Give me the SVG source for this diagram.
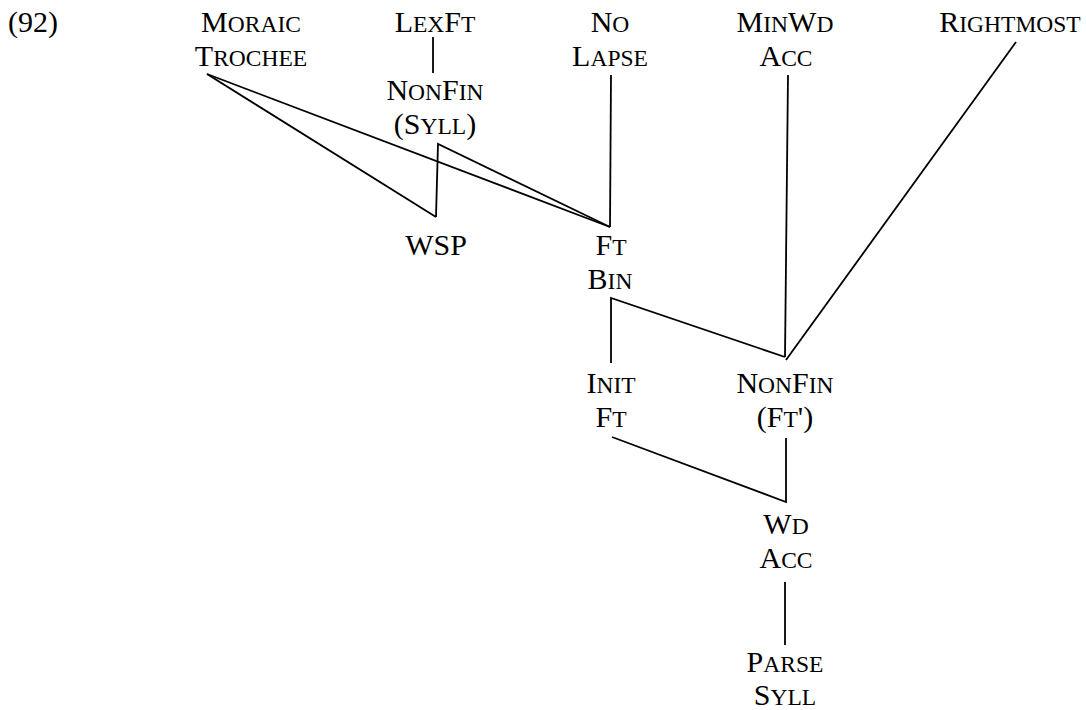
<svg xmlns="http://www.w3.org/2000/svg" width="1086" height="710" viewBox="0 0 1086 710">
  <style>
    .t { font-family: "Liberation Serif", "Times New Roman", serif; font-size: 30px; fill: #000; text-anchor: middle; }
    .s { font-size: 23.5px; }
    .edge { fill: none; stroke: #000; stroke-width: 1.8; stroke-linejoin: miter; stroke-linecap: butt; }
  </style>
  <rect width="1086" height="710" fill="#fff"/>

  <!-- example number -->
  <text class="t" x="8" y="32" style="text-anchor:start">(92)</text>

  <!-- constraint nodes -->
  <g id="moraic-trochee">
    <text class="t" x="251" y="32">M<tspan class="s">ORAIC</tspan></text>
    <text class="t" x="251" y="66">T<tspan class="s">ROCHEE</tspan></text>
  </g>
  <g id="lexft">
    <text class="t" x="435" y="32">L<tspan class="s">EX</tspan>F<tspan class="s">T</tspan></text>
  </g>
  <g id="nonfin-syll">
    <text class="t" x="435" y="100">N<tspan class="s">ON</tspan>F<tspan class="s">IN</tspan></text>
    <text class="t" x="435" y="134">(S<tspan class="s">YLL</tspan>)</text>
  </g>
  <g id="no-lapse">
    <text class="t" x="610" y="32">N<tspan class="s">O</tspan></text>
    <text class="t" x="610" y="66">L<tspan class="s">APSE</tspan></text>
  </g>
  <g id="minwd-acc">
    <text class="t" x="785" y="32">M<tspan class="s">IN</tspan>W<tspan class="s">D</tspan></text>
    <text class="t" x="786" y="66">A<tspan class="s">CC</tspan></text>
  </g>
  <g id="rightmost">
    <text class="t" x="1010" y="32">R<tspan class="s">IGHTMOST</tspan></text>
  </g>
  <g id="wsp">
    <text class="t" x="436" y="255">WSP</text>
  </g>
  <g id="ft-bin">
    <text class="t" x="611" y="255">F<tspan class="s">T</tspan></text>
    <text class="t" x="610" y="289">B<tspan class="s">IN</tspan></text>
  </g>
  <g id="init-ft">
    <text class="t" x="611" y="393">I<tspan class="s">NIT</tspan></text>
    <text class="t" x="611" y="427">F<tspan class="s">T</tspan></text>
  </g>
  <g id="nonfin-ft">
    <text class="t" x="785" y="393">N<tspan class="s">ON</tspan>F<tspan class="s">IN</tspan></text>
    <text class="t" x="785" y="427">(F<tspan class="s">T</tspan>')</text>
  </g>
  <g id="wd-acc">
    <text class="t" x="786" y="534">W<tspan class="s">D</tspan></text>
    <text class="t" x="786" y="568">A<tspan class="s">CC</tspan></text>
  </g>
  <g id="parse-syll">
    <text class="t" x="785" y="672">P<tspan class="s">ARSE</tspan></text>
    <text class="t" x="785" y="705">S<tspan class="s">YLL</tspan></text>
  </g>

  <!-- ranking lines -->
  <g id="connectors">
    <line class="edge" x1="207" y1="74" x2="436" y2="217"/>
    <line class="edge" x1="207" y1="74" x2="610" y2="227"/>
    <polyline class="edge" points="436,217 438,144 610,227"/>
    <line class="edge" x1="433" y1="37" x2="433" y2="73"/>
    <line class="edge" x1="611" y1="75" x2="610" y2="227"/>
    <line class="edge" x1="788" y1="75" x2="785" y2="357"/>
    <line class="edge" x1="1016" y1="42" x2="786" y2="360"/>
    <polyline class="edge" points="611,363 611,298 785,357"/>
    <polyline class="edge" points="612,437 786,502 786,438"/>
    <line class="edge" x1="785" y1="582" x2="785" y2="645"/>
  </g>
</svg>
